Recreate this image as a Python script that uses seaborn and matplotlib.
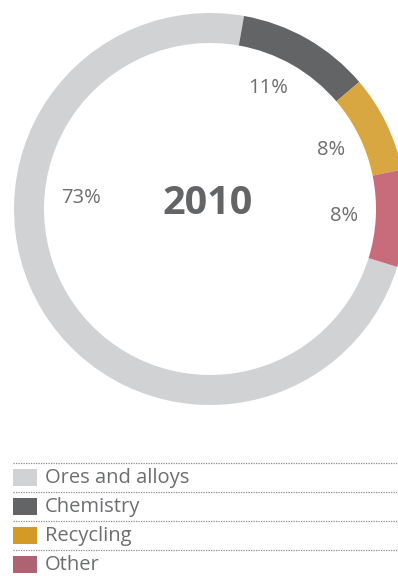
import matplotlib
matplotlib.use("Agg")
import matplotlib.pyplot as plt
from matplotlib.patches import Rectangle
import seaborn as sns

categories = ["Ores and alloys", "Chemistry", "Recycling", "Other"]
values = [73, 11, 8, 8]
ring_colors = ["#d1d2d4", "#636466", "#d9a741", "#c86c7c"]
swatch_colors = ["#d1d2d4", "#636466", "#d39b25", "#ae6373"]
center_label = "2010"

sns.set_theme(style="white")
plt.rcParams['font.family'] = ['Open Sans', 'DejaVu Sans']

W, H = 398, 576
fig = plt.figure(figsize=(W / 100, H / 100), dpi=100)
ax = fig.add_axes([0, 0, 1, 1])

cx, cy, R = 210, H - 209, 196
wedges, texts, autotexts = ax.pie(
    values, colors=ring_colors, startangle=-17.2, counterclock=False,
    center=(cx, cy), radius=R, autopct="%d%%", pctdistance=0.685,
    wedgeprops=dict(width=30, linewidth=0), frame=True,
    textprops=dict(color="#6d6e70", fontsize=14.5))
ax.set_xlim(0, W)
ax.set_ylim(0, H)
ax.set_aspect("equal")
ax.axis("off")
# label placement as in the source
autotexts[0].set_position((cx - 129, cy + 11))
autotexts[1].set_position((cx + 58, cy + 121))

ax.text(cx - 2, cy + 6, center_label, ha="center", va="center",
        fontsize=28.5, fontweight="bold", color="#636466")

# legend
row_top = H - 463
row_h = 29.0
for i, (cat, col) in enumerate(zip(categories, swatch_colors)):
    ytop = row_top - i * row_h
    ax.plot([13, W], [ytop, ytop], linestyle=(0, (1, 1)), color="#8a8a8c",
            linewidth=0.9)
    ymid = ytop - 14.5
    ax.add_patch(Rectangle((13, ymid - 8.5), 24, 17, facecolor=col,
                           edgecolor="none"))
    ax.text(45, ymid - 0.5, cat, ha="left", va="center", fontsize=14.5,
            color="#6d6e70")

fig.savefig("out.png", dpi=100)
